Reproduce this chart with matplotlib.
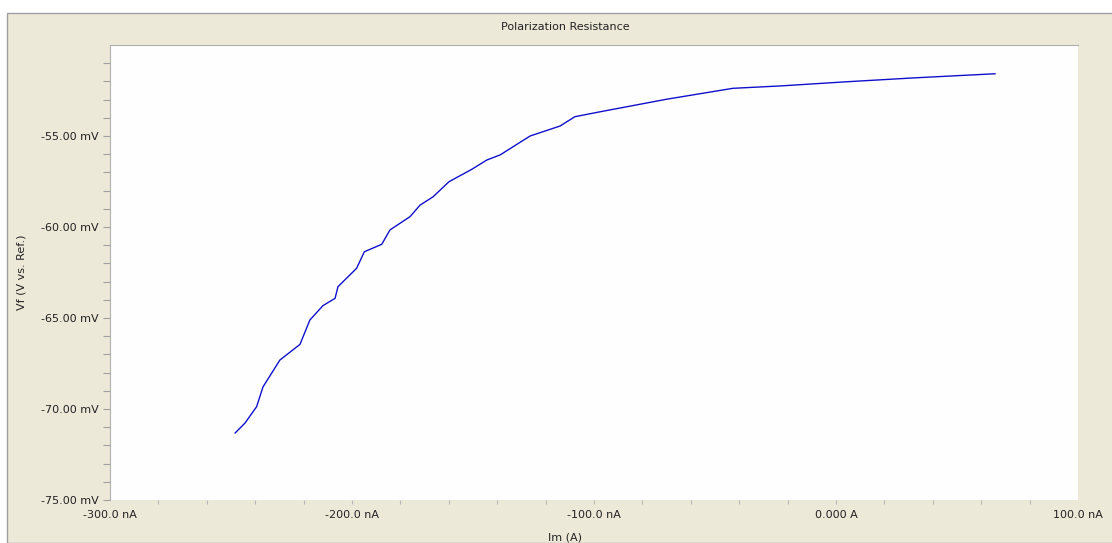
import matplotlib.pyplot as plt
from matplotlib.patches import Rectangle
from matplotlib.ticker import MultipleLocator, FuncFormatter

# current (nA) and potential (mV)
im_na = [-248.3, -244.2, -239.4, -236.8, -229.8, -221.5, -217.4, -212.0, -207.0,
         -205.8, -198.1, -194.9, -187.7, -184.3, -176.0, -171.9, -166.5, -159.9,
         -150.5, -144.3, -138.8, -126.4, -114.0, -107.9, -97.5, -70.0, -42.6,
         -23.1, 4.4, 31.8, 65.7]
vf_mv = [-71.32, -70.77, -69.87, -68.79, -67.31, -66.45, -65.11, -64.32, -63.92,
         -63.28, -62.27, -61.36, -60.95, -60.16, -59.43, -58.80, -58.34, -57.51,
         -56.83, -56.32, -56.04, -55.00, -54.45, -53.94, -53.67, -52.98, -52.38,
         -52.25, -52.02, -51.81, -51.58]

W, H = 1112, 543
bg = '#ECE9D8'
fig = plt.figure(figsize=(W / 100, H / 100), dpi=100, facecolor='white')
fig.patches.append(Rectangle((7 / W, 0), 1, (H - 13) / H, transform=fig.transFigure,
                             facecolor=bg, edgecolor='#A0A0A0', linewidth=1, zorder=-5))

ax = fig.add_axes([110 / W, (H - 500) / H, (1078 - 110) / W, (500 - 45) / H])
ax.set_zorder(2)
ax.set_facecolor('#FEFEFE')
ax.plot(im_na, vf_mv, color='#1010CC', linewidth=1.0)

ax.set_xlim(-300, 100)
ax.set_ylim(-75, -50)
ax.xaxis.set_major_locator(MultipleLocator(100))
ax.xaxis.set_minor_locator(MultipleLocator(20))
ax.yaxis.set_major_locator(MultipleLocator(5))
ax.yaxis.set_minor_locator(MultipleLocator(1))


def fmt_x(v, pos):
    if abs(v) < 1e-9:
        return '0.000 A'
    return f'{v:.1f} nA'


def fmt_y(v, pos):
    if v > -51:
        return ''
    return f'{v:.2f} mV'


ax.xaxis.set_major_formatter(FuncFormatter(fmt_x))
ax.yaxis.set_major_formatter(FuncFormatter(fmt_y))
ax.tick_params(axis='y', which='both', direction='out', length=5, width=0.8,
               color='#A0A0A0', labelsize=8, labelcolor='#222222', pad=3)
ax.tick_params(axis='x', which='both', direction='out', length=3, width=0.8,
               color='#B8B8B8', labelsize=8, labelcolor='#222222', pad=4)
for s in ax.spines.values():
    s.set_color('#B0B0B0')
    s.set_linewidth(0.8)
ax.spines['right'].set_visible(False)
ax.spines['bottom'].set_visible(False)

# no tick marks at the plot corners
fig.canvas.draw()
for t in ax.xaxis.get_major_ticks():
    if abs(t.get_loc()) > 250 or abs(t.get_loc() - 100) < 1e-6:
        t.tick1line.set_visible(False)
for t in ax.yaxis.get_major_ticks():
    if t.get_loc() > -51:
        t.tick1line.set_visible(False)

fig.text(565 / W, 1 - 27 / H, 'Polarization Resistance', ha='center', va='center',
         fontsize=8, color='#222222')
fig.text(565 / W, 1 - 537 / H, 'Im (A)', ha='center', va='center',
         fontsize=8, color='#222222')
fig.text(22 / W, 1 - 272 / H, 'Vf (V vs. Ref.)', ha='center', va='center',
         rotation=90, fontsize=8, color='#222222')

fig.savefig('out.png', dpi=100, facecolor=fig.get_facecolor())
